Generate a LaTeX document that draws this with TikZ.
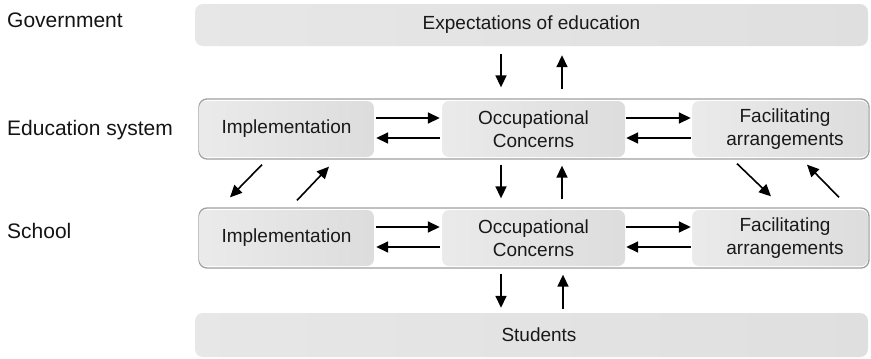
\documentclass[tikz,border=0pt]{standalone}
\usepackage{fontspec}
\setmainfont{Liberation Sans}
\usetikzlibrary{arrows.meta}
\begin{document}
\begin{tikzpicture}[x=1pt,y=-1pt,
  boxfont/.style={font=\fontsize{19}{23}\selectfont},
  lblfont/.style={font=\fontsize{21}{24}\selectfont, text=black!92, inner sep=0pt, anchor=base west},
  band/.style={rounded corners=8pt, left color=gray!19, right color=gray!25, draw=none,
    inner sep=0pt, boxfont, text=black!90},
  rowbox/.style={rounded corners=8pt, draw=gray!75, line width=1.3pt, fill=white, inner sep=0pt},
  inbox/.style={rounded corners=7pt, left color=gray!16, right color=gray!27, draw=none,
    inner sep=0pt, boxfont, align=center, text=black!90, minimum height=56pt},
  arr/.style={line width=1.6pt, -{Triangle[length=12pt,width=11pt]}}
]
\useasboundingbox (0,0) rectangle (871,359);

% level labels
\node[lblfont] (lgov) at (7,27) {Government};
\node[lblfont] (ledu) at (7,135) {Education system};
\node[lblfont] (lsch) at (7,238) {School};

% top and bottom bands
\node[band, minimum width=673pt, minimum height=42pt] (exp) at (531.5,25) {Expectations of education};
\node[band, minimum width=673pt, minimum height=44pt] (stu) at (531.5,335) {\hspace*{15pt}Students};

% rows
\node[rowbox, minimum width=670pt, minimum height=60pt] (erow) at (534,129) {};
\node[rowbox, minimum width=670pt, minimum height=60pt] (srow) at (534,238) {};

% education system inner boxes
\node[inbox, minimum width=175pt] (eimp) at (286.5,129) {Implementation};
\node[inbox, minimum width=183pt] (eocc) at (533.5,129) {Occupational\\Concerns};
\node[inbox, minimum width=176pt] (efac) at (780,129) {\hspace*{10pt}Facilitating\\\hspace*{10pt}arrangements};

% school inner boxes
\node[inbox, minimum width=175pt] (simp) at (286.5,238) {Implementation};
\node[inbox, minimum width=183pt] (socc) at (533.5,238) {Occupational\\Concerns};
\node[inbox, minimum width=176pt] (sfac) at (780,238) {\hspace*{10pt}Facilitating\\\hspace*{10pt}arrangements};

% horizontal arrows, education row
\draw[arr] ([xshift=2pt,yshift=11pt]eimp.east) -- ([xshift=-2pt,yshift=11pt]eocc.west);
\draw[arr] ([xshift=-2pt,yshift=-9pt]eocc.west) -- ([xshift=2pt,yshift=-9pt]eimp.east);
\draw[arr] ([xshift=1pt,yshift=11pt]eocc.east) -- ([xshift=-1pt,yshift=11pt]efac.west);
\draw[arr] ([xshift=-1pt,yshift=-9pt]efac.west) -- ([xshift=1pt,yshift=-9pt]eocc.east);

% horizontal arrows, school row
\draw[arr] ([xshift=2pt,yshift=11pt]simp.east) -- ([xshift=-2pt,yshift=11pt]socc.west);
\draw[arr] ([xshift=-2pt,yshift=-9pt]socc.west) -- ([xshift=2pt,yshift=-9pt]simp.east);
\draw[arr] ([xshift=1pt,yshift=11pt]socc.east) -- ([xshift=-1pt,yshift=11pt]sfac.west);
\draw[arr] ([xshift=-1pt,yshift=-9pt]sfac.west) -- ([xshift=1pt,yshift=-9pt]socc.east);

% government <-> education system
\draw[arr] ([xshift=-30.5pt,yshift=-8pt]exp.south) -- ([xshift=-33pt,yshift=11pt]erow.north);
\draw[arr] ([xshift=28pt,yshift=9pt]erow.north) -- ([xshift=30.5pt,yshift=-9pt]exp.south);

% education system <-> school
\draw[arr] ([xshift=-272pt,yshift=-5pt]erow.south) -- ([xshift=-304pt,yshift=10pt]srow.north);
\draw[arr] ([xshift=-237pt,yshift=7pt]srow.north) -- ([xshift=-205pt,yshift=-7pt]erow.south);
\draw[arr] ([xshift=-33pt,yshift=-5pt]erow.south) -- ([xshift=-33pt,yshift=9pt]srow.north);
\draw[arr] ([xshift=28pt,yshift=8pt]srow.north) -- ([xshift=28pt,yshift=-6pt]erow.south);
\draw[arr] ([xshift=203pt,yshift=-4pt]erow.south) -- ([xshift=237pt,yshift=11pt]srow.north);
\draw[arr] ([xshift=305pt,yshift=10pt]srow.north) -- ([xshift=273pt,yshift=-5pt]erow.south);

% school <-> students
\draw[arr] ([xshift=-33pt,yshift=-5pt]srow.south) -- ([xshift=-30.5pt,yshift=5pt]stu.north);
\draw[arr] ([xshift=31.5pt,yshift=4pt]stu.north) -- ([xshift=29pt,yshift=-6pt]srow.south);
\end{tikzpicture}
\end{document}
